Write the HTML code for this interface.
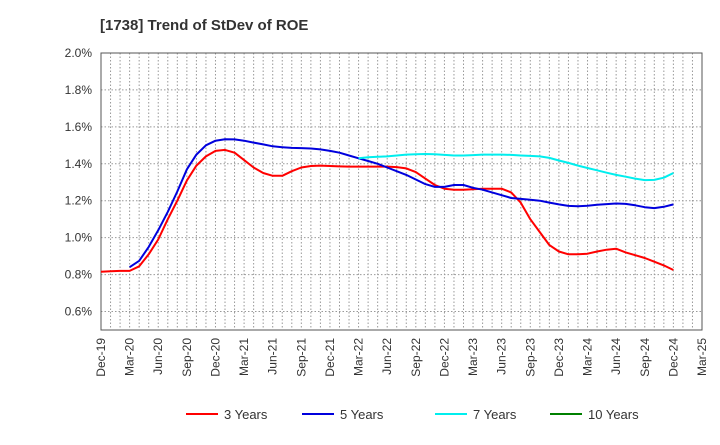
<!DOCTYPE html>
<html><head><meta charset="utf-8"><style>
body{margin:0;background:#fff;font-family:"Liberation Sans",sans-serif}
svg text{font-family:"Liberation Sans",sans-serif}
</style></head><body>
<svg id="c" width="720" height="440" xmlns="http://www.w3.org/2000/svg">
<text x="100" y="30" font-size="15" font-weight="bold" fill="#333">[1738]  Trend of StDev of ROE</text>
</svg>
<script>
const xLabels=["Dec-19","Mar-20","Jun-20","Sep-20","Dec-20","Mar-21","Jun-21","Sep-21","Dec-21","Mar-22","Jun-22","Sep-22","Dec-22","Mar-23","Jun-23","Sep-23","Dec-23","Mar-24","Jun-24","Sep-24","Dec-24","Mar-25"];
const yTicks=[0.6,0.8,1.0,1.2,1.4,1.6,1.8,2.0];
const seriesNames=["3 Years","5 Years","7 Years","10 Years"];
const seriesColors=["#ff0000","#0000dd","#00eeee","#008000"];
const red3=[0.815,0.818,0.82,0.82,0.845,0.91,0.99,1.1,1.2,1.31,1.39,1.44,1.47,1.475,1.46,1.42,1.38,1.35,1.335,1.335,1.36,1.38,1.388,1.39,1.388,1.386,1.385,1.385,1.385,1.385,1.385,1.382,1.375,1.355,1.32,1.285,1.265,1.26,1.26,1.262,1.265,1.265,1.265,1.245,1.19,1.1,1.03,0.96,0.925,0.91,0.91,0.913,0.925,0.935,0.94,0.92,0.905,0.89,0.87,0.85,0.825];
const blue5Start=3;
const blue5=[0.84,0.875,0.95,1.04,1.14,1.25,1.37,1.45,1.5,1.525,1.533,1.532,1.525,1.515,1.505,1.495,1.49,1.486,1.485,1.483,1.478,1.47,1.46,1.445,1.43,1.415,1.4,1.38,1.36,1.34,1.315,1.29,1.275,1.275,1.285,1.285,1.27,1.26,1.245,1.23,1.215,1.21,1.205,1.2,1.19,1.18,1.172,1.17,1.173,1.178,1.182,1.185,1.183,1.175,1.165,1.16,1.167,1.18];
const cyan7Start=27;
const cyan7=[1.43,1.435,1.438,1.44,1.445,1.45,1.452,1.453,1.452,1.448,1.445,1.445,1.447,1.45,1.45,1.45,1.448,1.445,1.443,1.44,1.432,1.418,1.405,1.39,1.377,1.365,1.352,1.34,1.33,1.32,1.312,1.313,1.325,1.35];

const svg=document.getElementById('c');const NS="http://www.w3.org/2000/svg";
const L=101,R=702,T=53,B=330,vMin=0.5,vMax=2.0,months=63;
const xs=i=>L+(R-L)*i/months;
const ys=v=>B-(v-vMin)/(vMax-vMin)*(B-T);
function mk(t,a){const e=document.createElementNS(NS,t);for(const k in a)e.setAttribute(k,a[k]);svg.appendChild(e);return e;}
for(let m=1;m<months;m++){
 const g=mk('line',{x1:xs(m),x2:xs(m),y1:T,y2:B,stroke:'#999','stroke-dasharray':'1.5,2','stroke-width':1});
 
 
}
yTicks.forEach(v=>{
 const g=mk('line',{x1:L,x2:R,y1:ys(v),y2:ys(v),stroke:'#999','stroke-dasharray':'1.5,2','stroke-width':1});
 
 
 const t=mk('text',{x:L-9,y:ys(v)+4,'text-anchor':'end','font-size':12,fill:'#333'});
 t.textContent=v.toFixed(1)+'%';
 
 
});
const fr=mk('rect',{x:L,y:T,width:R-L,height:B-T,fill:'none',stroke:'#555','stroke-width':1});


xLabels.forEach((s,q)=>{
 const x=xs(q*3);
 const t=mk('text',{x:0,y:0,'text-anchor':'end','font-size':12,fill:'#333',transform:`translate(${x+4},${B+8}) rotate(-90)`});
 t.textContent=s;
 
 
});
function drawLine(arr,start,color,name){
 const d=arr.map((v,i)=>(i?'L':'M')+xs(start+i).toFixed(1)+','+ys(v).toFixed(1)).join(' ');
 const p=mk('path',{d:d,fill:'none',stroke:color,'stroke-width':2,'stroke-linejoin':'round'});
 
 
}
drawLine(red3,0,seriesColors[0],'line-3-years');
drawLine(blue5,blue5Start,seriesColors[1],'line-5-years');
drawLine(cyan7,cyan7Start,seriesColors[2],'line-7-years');
const legX=[186,302,435,550];
seriesNames.forEach((n,i)=>{
 const l=mk('line',{x1:legX[i],x2:legX[i]+32,y1:414,y2:414,stroke:seriesColors[i],'stroke-width':2});
 
 
 const t=mk('text',{x:legX[i]+38,y:419,'font-size':13,fill:'#333'});
 t.textContent=n;
 
 
});
</script>
</body></html>
